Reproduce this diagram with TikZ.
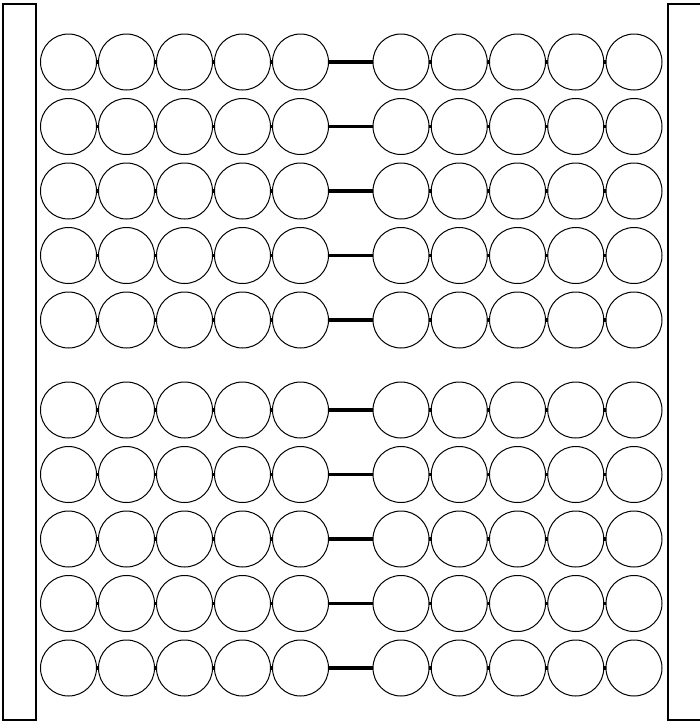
\documentclass[tikz,border=0pt]{standalone}
\usetikzlibrary{backgrounds}
\begin{document}
\begin{tikzpicture}[x=1pt,y=-1pt,
  bead/.style={circle,draw=black,fill=white,line width=1pt,minimum size=56pt,inner sep=0pt},
  rod/.style={line width=3.2pt,draw=black},
  frame/.style={rectangle,draw=black,line width=1.6pt,fill=white,inner sep=0pt}]
\useasboundingbox (0,0) rectangle (700,724);
\node[frame,minimum width=33pt,minimum height=716pt] (lframe) at (19.5,362) {};
\node[frame,minimum width=36pt,minimum height=716pt] (rframe) at (686,362) {};
\foreach \r/\y in {1/62,2/126.5,3/191,4/255.5,5/320,6/410,7/474.5,8/539,9/603.5,10/668}{
  \foreach \c in {1,...,5}{
    \node[bead] (b-\r-\c) at ({68.5+58*(\c-1)},\y) {};
  }
  \foreach \c in {6,...,10}{
    \node[bead] (b-\r-\c) at ({401+58.25*(\c-6)},\y) {};
  }
  \begin{scope}[on background layer]
    \draw[rod] (b-\r-1.center) -- (b-\r-10.center);
  \end{scope}
}
\end{tikzpicture}
\end{document}
